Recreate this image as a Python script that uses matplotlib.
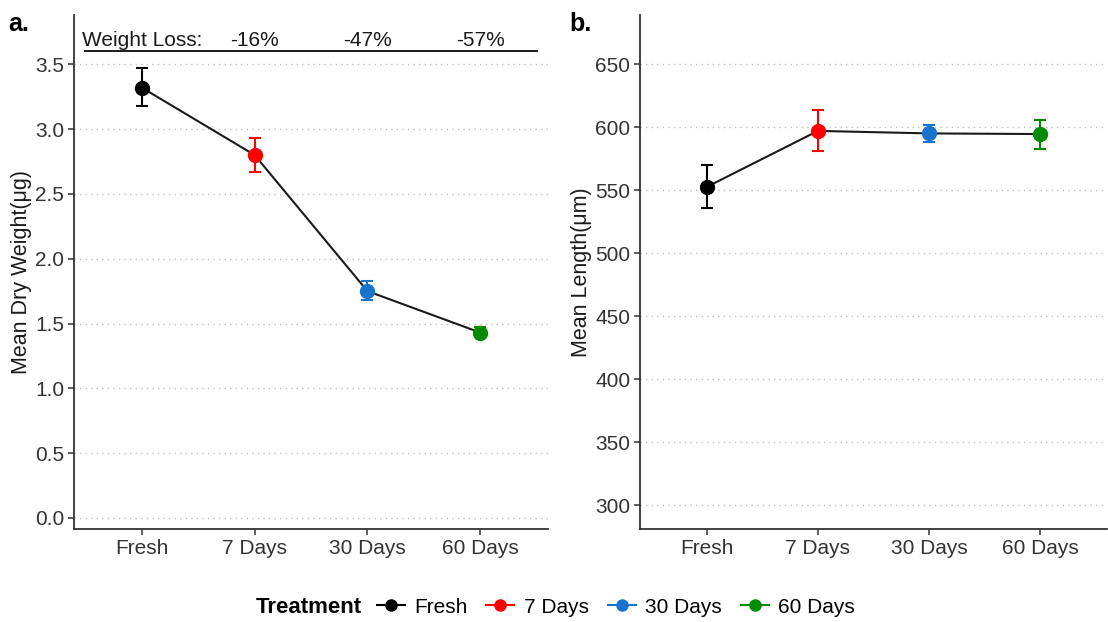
import numpy as np
import matplotlib
matplotlib.use('Agg')
import matplotlib.pyplot as plt
from matplotlib.lines import Line2D

plt.rcParams['font.family'] = ['Liberation Sans', 'DejaVu Sans']

# data
treatments = ['Fresh', '7 Days', '30 Days', '60 Days']
colors = ['#000000', '#FF0000', '#1874CD', '#008B00']

weight_mean = [3.32, 2.80, 1.75, 1.43]
weight_lo = [3.18, 2.67, 1.68, 1.40]
weight_hi = [3.47, 2.93, 1.83, 1.47]

length_mean = [552.5, 597.0, 595.0, 594.5]
length_lo = [535.5, 581.0, 588.5, 583.0]
length_hi = [570.0, 613.5, 601.5, 606.0]

loss_labels = ['Weight Loss:', '-16%', '-47%', '-57%']

weight_ticks = [0.0, 0.5, 1.0, 1.5, 2.0, 2.5, 3.0, 3.5]
length_ticks = [300, 350, 400, 450, 500, 550, 600, 650]

TICK_FS = 15
LABEL_FS = 15.5


def draw_panel(ax, mean, lo, hi, ylim, yticks, ylabel, fmt):
    x = np.arange(1, len(treatments) + 1)
    for t in yticks:
        ax.axhline(t, color='#BEBEBE', linestyle=(0, (1, 3)), linewidth=1.0, zorder=0)
    ax.plot(x, mean, color='#1a1a1a', linewidth=1.5, zorder=2)
    for i in range(len(x)):
        ax.errorbar(x[i], mean[i], yerr=[[mean[i] - lo[i]], [hi[i] - mean[i]]],
                    fmt='o', color=colors[i], markersize=10, elinewidth=1.5,
                    capsize=4.5, capthick=1.5, zorder=3)
    ax.set_xlim(0.4, 4.6)
    ax.set_ylim(*ylim)
    ax.set_xticks(x)
    ax.set_xticklabels(treatments)
    ax.set_yticks(yticks)
    ax.set_yticklabels([fmt % t for t in yticks])
    ax.set_ylabel(ylabel, fontsize=LABEL_FS, labelpad=2, color='#1a1a1a')
    for s in ['top', 'right']:
        ax.spines[s].set_visible(False)
    for s in ['left', 'bottom']:
        ax.spines[s].set_linewidth(1.3)
        ax.spines[s].set_color('#333333')
    ax.tick_params(axis='both', labelsize=TICK_FS, length=4, width=1.1, color='#333333',
                   labelcolor='#333333', pad=3)


fig = plt.figure(figsize=(11.08, 6.22), dpi=100)
ax1 = fig.add_axes([0.0668, 0.1495, 0.4278, 0.8264])
ax2 = fig.add_axes([0.5776, 0.1495, 0.4215, 0.8264])

draw_panel(ax1, weight_mean, weight_lo, weight_hi, (-0.085, 3.88), weight_ticks,
           'Mean Dry Weight(\u03bcg)', '%.1f')
draw_panel(ax2, length_mean, length_lo, length_hi, (281, 689), length_ticks,
           'Mean Length(\u03bcm)', '%d')

# weight loss header
ax1.plot([0.5, 4.5], [3.60, 3.60], color='#1a1a1a', linewidth=1.4, zorder=2)
for i, lab in enumerate(loss_labels):
    ax1.text(i + 1, 3.61, lab, ha='center', va='bottom', fontsize=TICK_FS, color='#1a1a1a')

fig.text(0.007, 0.962, 'a.', fontsize=18, fontweight='bold', va='center')
fig.text(0.514, 0.962, 'b.', fontsize=18, fontweight='bold', va='center')

# legend
fig.text(0.3267, 0.024, 'Treatment', fontsize=16, fontweight='bold', ha='right', va='center')
handles = [Line2D([0], [0], color=c, marker='o', markersize=8, linewidth=1.5) for c in colors]
fig.legend(handles, treatments, loc='center left', bbox_to_anchor=(0.3400, 0.024), ncol=4,
           frameon=False, fontsize=TICK_FS, handlelength=1.35, handletextpad=0.45,
           columnspacing=0.9, borderpad=0, borderaxespad=0)

fig.savefig('out.png', dpi=100)
